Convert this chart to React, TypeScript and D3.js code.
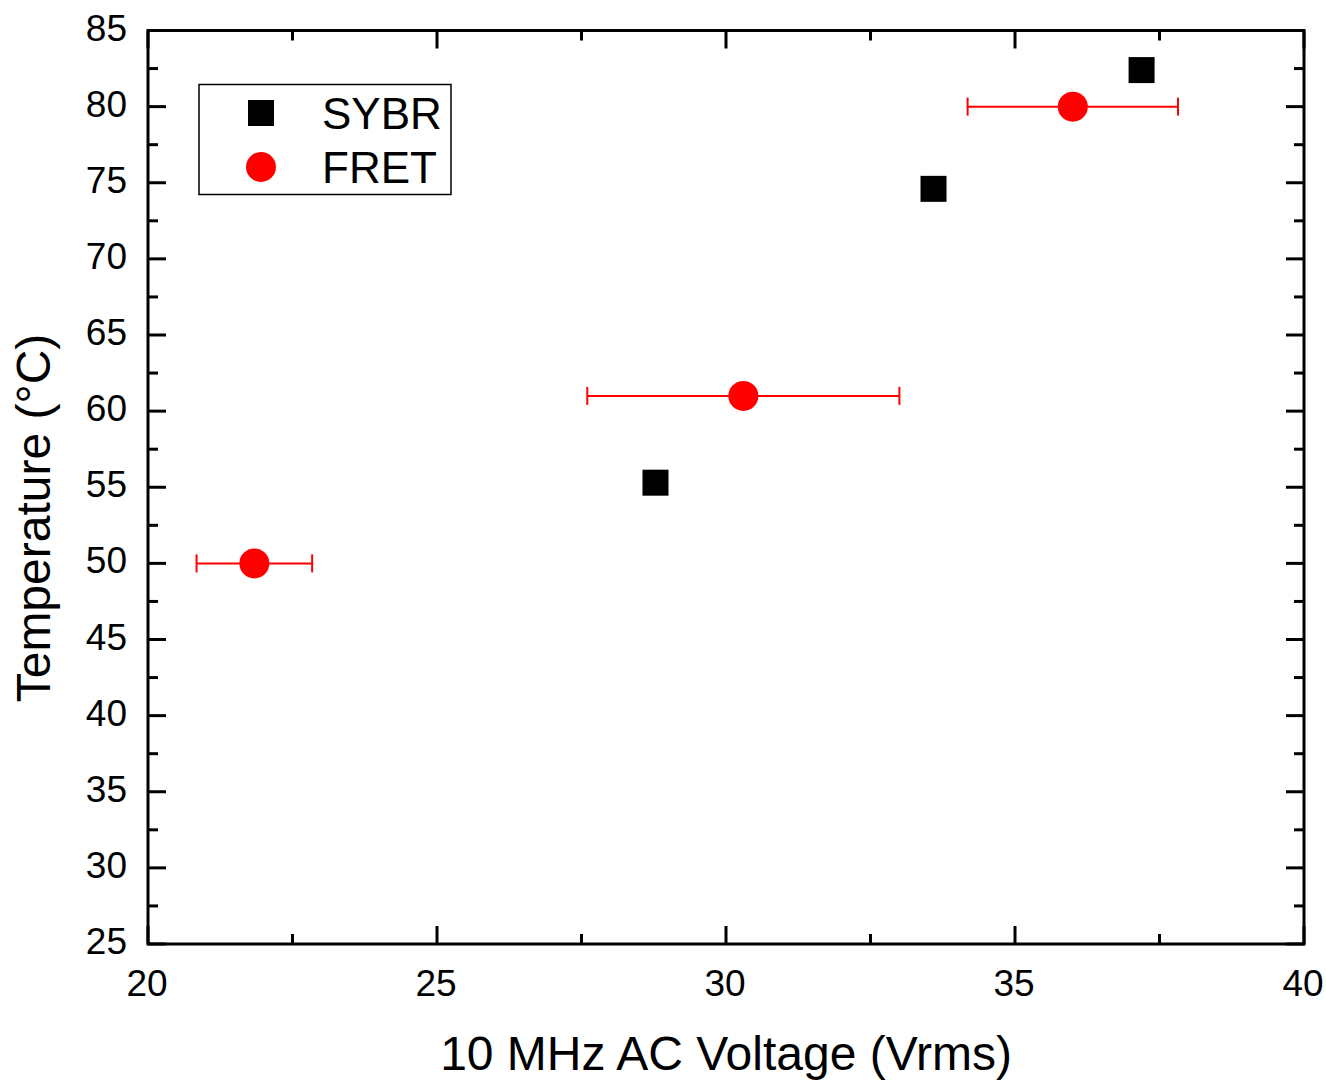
import React from "react";
import * as d3 from "d3";

const sybrX = [28.78, 33.59, 37.19];
const sybrY = [55.3, 74.6, 82.4];
const fretX = [21.84, 30.3, 36.0];
const fretY = [50, 61, 80];
const fretXErr = [1.0, 2.7, 1.82];
const xTicks = [20, 25, 30, 35, 40];
const yTicks = [25, 30, 35, 40, 45, 50, 55, 60, 65, 70, 75, 80, 85];

const W = 1326, H = 1081;
const L = 148, R = 1304, T = 30.5, B = 944;
const FONT = "Liberation Sans, Arial, sans-serif";

export default function App() {
  const x = d3.scaleLinear().domain([20, 40]).range([L, R]);
  const y = d3.scaleLinear().domain([25, 85]).range([B, T]);
  const xMinor = d3.range(20, 40.01, 2.5);
  const yMinor = d3.range(25, 85.01, 2.5);
  const isMajor = (v: number, step: number) => Math.abs(v / step - Math.round(v / step)) < 1e-6;

  return (
    <svg width={W} height={H} style={{ position: "absolute", left: 0, top: 0, background: "#fff" }}>
      {xMinor.map((v, i) => {
        const len = isMajor(v, 5) ? 18 : 10;
        return (
          <g key={"xt" + i} stroke="#000" strokeWidth={3}>
            <line x1={x(v)} x2={x(v)} y1={B} y2={B - len} />
            <line x1={x(v)} x2={x(v)} y1={T} y2={T + len} />
          </g>
        );
      })}
      {yMinor.map((v, i) => {
        const len = isMajor(v, 5) ? 18 : 10;
        return (
          <g key={"yt" + i} stroke="#000" strokeWidth={3}>
            <line x1={L} x2={L + len} y1={y(v)} y2={y(v)} />
            <line x1={R} x2={R - len} y1={y(v)} y2={y(v)} />
          </g>
        );
      })}
      <rect x={L} y={T} width={R - L} height={B - T} fill="none" stroke="#000" strokeWidth={3} />

      {xTicks.map((v) => (
        <text key={"xl" + v} x={x(v) - 1} y={996} textAnchor="middle" fontFamily={FONT} fontSize={37} fill="#000">
          {v}
        </text>
      ))}
      {yTicks.map((v) => (
        <text key={"yl" + v} x={L - 21} y={y(v) + 10} textAnchor="end" fontFamily={FONT} fontSize={37} fill="#000">
          {v}
        </text>
      ))}

      <text x={(L + R) / 2} y={1070} textAnchor="middle" fontFamily={FONT} fontSize={48} fill="#000">
        10 MHz AC Voltage (Vrms)
      </text>
      <text
        transform={`translate(50, 518) rotate(-90)`}
        textAnchor="middle"
        fontFamily={FONT}
        fontSize={48}
        fill="#000"
      >
        Temperature (°C)
      </text>

      {fretX.map((v, i) => (
        <g key={"eb" + i} stroke="#ff0000" strokeWidth={2}>
          <line x1={x(v - fretXErr[i])} x2={x(v + fretXErr[i])} y1={y(fretY[i])} y2={y(fretY[i])} />
          <line x1={x(v - fretXErr[i])} x2={x(v - fretXErr[i])} y1={y(fretY[i]) - 9} y2={y(fretY[i]) + 9} />
          <line x1={x(v + fretXErr[i])} x2={x(v + fretXErr[i])} y1={y(fretY[i]) - 9} y2={y(fretY[i]) + 9} />
        </g>
      ))}
      {sybrX.map((v, i) => (
        <rect key={"sq" + i} x={x(v) - 13} y={y(sybrY[i]) - 13} width={26} height={26} fill="#000" />
      ))}
      {fretX.map((v, i) => (
        <circle key={"c" + i} cx={x(v)} cy={y(fretY[i])} r={15} fill="#ff0000" />
      ))}

      <rect x={199} y={84.5} width={252} height={110} fill="#fff" stroke="#000" strokeWidth={1.5} />
      <rect x={248} y={100} width={26} height={26} fill="#000" />
      <circle cx={261} cy={167} r={15} fill="#ff0000" />
      <text x={322} y={129} fontFamily={FONT} fontSize={44} fill="#000">SYBR</text>
      <text x={322} y={183} fontFamily={FONT} fontSize={44} fill="#000">FRET</text>
    </svg>
  );
}
